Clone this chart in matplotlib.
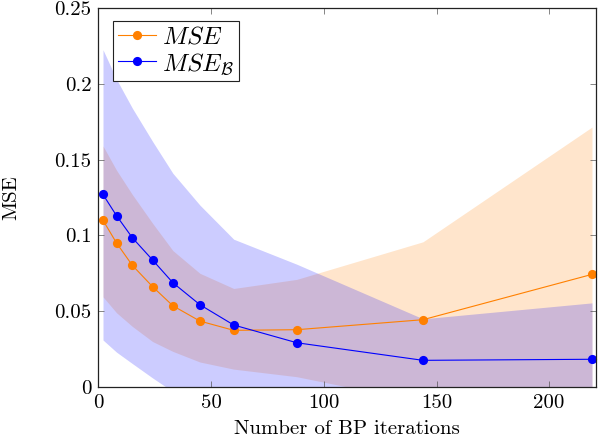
import numpy as np
import matplotlib
matplotlib.use("Agg")
import matplotlib.pyplot as plt

plt.rcParams['font.family'] = 'serif'
plt.rcParams['font.serif'] = ['cmr10']
plt.rcParams['mathtext.fontset'] = 'cm'
plt.rcParams['axes.unicode_minus'] = False
plt.rcParams['font.size'] = 15

# BP iterations
iters = [2, 8, 15, 24, 33, 45, 60, 88, 144, 219]

# MSE (orange) mean and band
mse = [0.110, 0.095, 0.0803, 0.0662, 0.0536, 0.0435, 0.0374, 0.0378, 0.0444, 0.0743]
mse_hi = [0.159, 0.143, 0.127, 0.108, 0.090, 0.075, 0.065, 0.071, 0.0958, 0.1715]
mse_lo = [0.0595, 0.049, 0.040, 0.030, 0.0235, 0.0165, 0.0118, 0.0068, -0.010, -0.020]

# MSE_B (blue) mean and band
mseb = [0.127, 0.113, 0.0985, 0.0838, 0.0688, 0.0543, 0.0409, 0.0292, 0.0176, 0.0183]
mseb_hi = [0.2225, 0.203, 0.184, 0.162, 0.141, 0.120, 0.0975, 0.081, 0.045, 0.0555]
mseb_lo = [0.031, 0.023, 0.0155, 0.006, -0.003, -0.012, -0.016, -0.023, -0.010, -0.019]

orange = (1.0, 0.5, 0.0)
blue = (0.0, 0.0, 1.0)

fig = plt.figure(figsize=(5.98, 4.38), dpi=100)
ax = fig.add_axes([0.1647, 0.1164, 0.8313, 0.8653])

ax.fill_between(iters, mse_lo, mse_hi, color=orange, alpha=0.2, lw=0)
ax.fill_between(iters, mseb_lo, mseb_hi, color=blue, alpha=0.2, lw=0)
ax.plot(iters, mse, '-o', color=orange, lw=0.8, ms=6.6, mew=0, label=r'$MSE$', clip_on=False)
ax.plot(iters, mseb, '-o', color=blue, lw=0.8, ms=6.6, mew=0, label=r'$MSE_{\mathcal{B}}$', clip_on=False)

ax.set_xlim(0, 220.6)
ax.set_ylim(0, 0.25)
ax.set_xticks([0, 50, 100, 150, 200])
ax.set_xticklabels(['0', '50', '100', '150', '200'])
ax.set_yticks([0, 0.05, 0.1, 0.15, 0.2, 0.25])
ax.set_yticklabels(['0', '0.05', '0.1', '0.15', '0.2', '0.25'])
ax.tick_params(direction='in', length=4, width=0.5, color='#555555',
               top=True, right=True, pad=5)
for s in ax.spines.values():
    s.set_linewidth(0.9)
    s.set_color('#222222')

ax.set_xlabel('Number of BP iterations')
ax.xaxis.set_label_coords(0.5, -0.087)
ax.set_ylabel('MSE')
ax.yaxis.set_label_coords(-0.158, 0.5)

leg = ax.legend(loc='upper left', bbox_to_anchor=(0.03, 0.965), borderaxespad=0,
                fancybox=False, framealpha=1, edgecolor='#222222', fontsize=18,
                handlelength=1.5, handletextpad=0.25, borderpad=0.2, labelspacing=0.1)
leg.get_frame().set_linewidth(0.8)

fig.savefig('out.png', dpi=100)
